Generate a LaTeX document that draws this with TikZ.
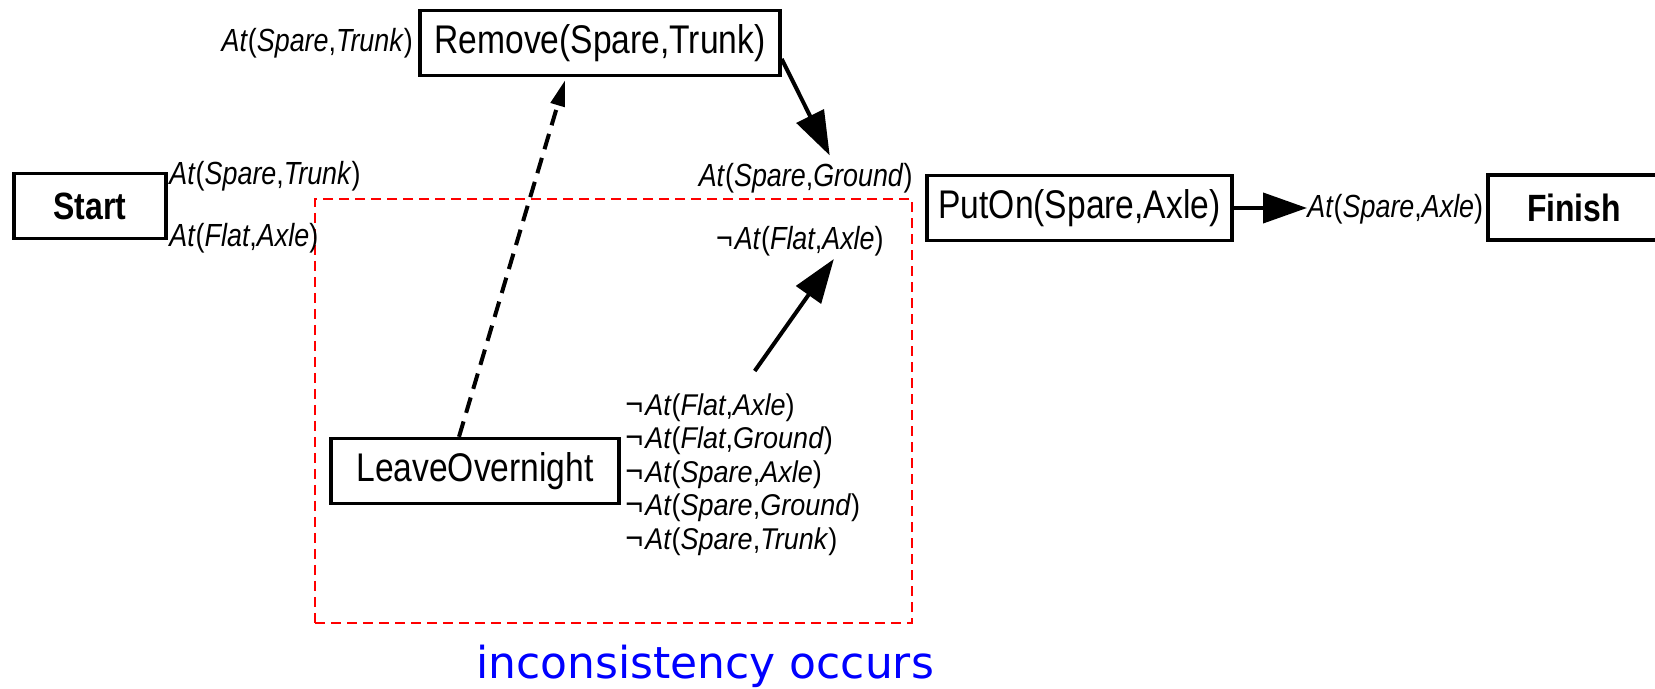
\documentclass[tikz,border=0pt]{standalone}
\usepackage{fontspec}
\setmainfont{Liberation Sans}
\newfontfamily\planfont[FakeStretch=0.84]{Liberation Sans}
\newfontfamily\effectfont[FakeStretch=0.9]{Liberation Sans}
\newfontfamily\notefont{DejaVu Sans}
\usetikzlibrary{arrows.meta,positioning}
\definecolor{clashred}{HTML}{FF0000}
\definecolor{noteblue}{HTML}{0000FF}
\newcommand{\fluent}[3]{\textit{#1}(\textit{#2},\textit{#3})}
\newcommand{\nope}{\smash{\fontsize{17}{16}\selectfont¬}\kern1pt}

\begin{document}
\begin{tikzpicture}[
    x=0.5pt, y=-0.5pt,
    action/.style={draw, line width=1.7pt, inner sep=0pt, minimum height=32.5pt, font=\planfont\fontsize{20}{24}\selectfont},
    endpoint/.style={action, font=\planfont\bfseries\fontsize{19}{23}\selectfont},
    cond/.style={inner sep=0pt, font=\planfont\fontsize{16}{16.2}\selectfont},
    effect/.style={inner sep=0pt, align=left, font=\effectfont\fontsize{15}{16.8}\selectfont},
    arrow/.style={-{Triangle[length=22pt,width=15pt]}, line width=2pt},
    dasharrow/.style={-{Triangle[length=13pt,width=7pt]}, line width=2pt, dash pattern=on 8pt off 4.5pt},
    zone/.style={draw=clashred, line width=1pt, dash pattern=on 5pt off 3pt, inner sep=0pt},
    note/.style={font=\notefont\fontsize{22}{26}\selectfont, text=noteblue, inner sep=0pt}
]
\useasboundingbox (0,0) rectangle (1655,689);

% Threat region
\node[zone, minimum width=298.5pt, minimum height=212pt] (threat) at (613.5,411) {};

% Actions
\node[endpoint, minimum width=76pt] (start) at (90,206) {Start};
\node[action, minimum width=180pt] (remove) at (600,43) {Remove(Spare,Trunk)};
\node[action, minimum width=152.5pt] (puton) at (1079.5,208) {PutOn(Spare,Axle)};
\node[endpoint, minimum width=86pt] (finish) at (1574,207.5) {Finish};
\node[action, minimum width=144pt] (leave) at (475,471) {LeaveOvernight};

% Conditions
\node[cond, anchor=base west] (trunk) at (169,185) {\fluent{At}{Spare}{Trunk}};
\node[cond, anchor=base west] (flat) at (169,247) {\fluent{At}{Flat}{Axle}};
\node[cond, left=2.5pt of remove] (trunkpre) {\fluent{At}{Spare}{Trunk}};
\node[cond, anchor=base east] (ground) at (913,187) {\fluent{At}{Spare}{Ground}};
\node[cond, anchor=base east] (noflat) at (884,250) {\nope\fluent{At}{Flat}{Axle}};
\node[cond, anchor=base west] (axle) at (1307,218) {\fluent{At}{Spare}{Axle}};
\node[effect, anchor=north west] (effects) at (625,393)
    {\nope\fluent{At}{Flat}{Axle}\\\nope\fluent{At}{Flat}{Ground}\\\nope\fluent{At}{Spare}{Axle}\\\nope\fluent{At}{Spare}{Ground}\\\nope\fluent{At}{Spare}{Trunk}};

% Links
\draw[dasharrow] ([xshift=-8pt]leave.north) -- ([xshift=-17.5pt, yshift=-1.5pt]remove.south);
\draw[arrow] ([yshift=-8pt]remove.east) -- ([xshift=12pt, yshift=4pt]ground.north);
\draw[arrow] ([xshift=6pt, yshift=11pt]effects.north) -- ([xshift=17pt, yshift=-1pt]noflat.south);
\draw[arrow] (puton.east) -- (puton.east -| axle.west);

% Caption
\node[note, anchor=base] (clash) at (705,678) {inconsistency occurs};

\end{tikzpicture}
\end{document}
